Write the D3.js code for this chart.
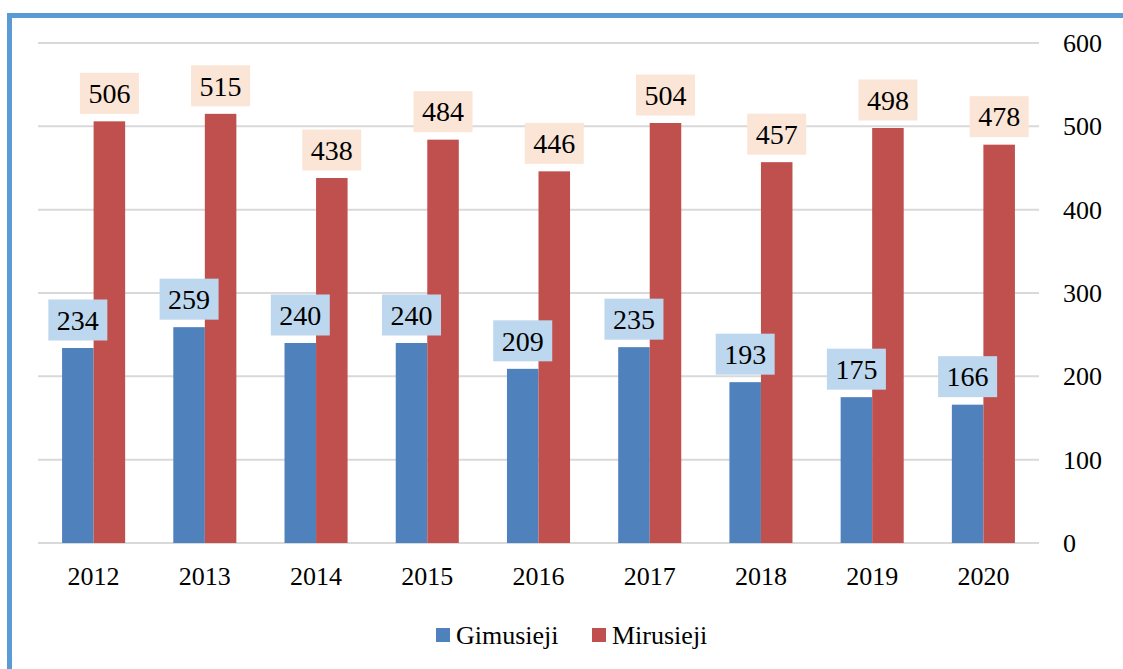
<!DOCTYPE html>
<html lang="lt">
<head>
    <meta charset="UTF-8">
    <script src="https://d3js.org/d3.v7.min.js"></script>
    <style>
        body { margin: 0; background: #fff; }
    </style>
</head>
<body>
    <svg id="chart" width="1123" height="669"></svg>

    <script>
        const years = ["2012", "2013", "2014", "2015", "2016", "2017", "2018", "2019", "2020"];
        const gimusieji = [234, 259, 240, 240, 209, 235, 193, 175, 166];
        const mirusieji = [506, 515, 438, 484, 446, 504, 457, 498, 478];
        const yTicks = [0, 100, 200, 300, 400, 500, 600];

        const series = [
            { name: "Gimusieji", values: gimusieji, color: "#4F81BD", labelFill: "#BDD7EE" },
            { name: "Mirusieji", values: mirusieji, color: "#C0504D", labelFill: "#FBE5D6" }
        ];

        const FONT = "Liberation Serif, Times New Roman, serif";
        const width = 1123, height = 669;
        const margin = { top: 43, right: 84, bottom: 126, left: 38 };

        const svg = d3.select("#chart");

        // outer frame (left and top edges visible)
        svg.append("path")
            .attr("d", `M9.5,${height} V15.5 H${width}`)
            .attr("fill", "none")
            .attr("stroke", "#5B9BD5")
            .attr("stroke-width", 5);

        const x = d3.scaleBand().domain(years)
            .range([margin.left, width - margin.right])
            .paddingInner(0.433).paddingOuter(0.2165);
        const xs = d3.scaleBand().domain(series.map(s => s.name))
            .range([0, x.bandwidth()]);
        const y = d3.scaleLinear().domain([0, 600])
            .range([height - margin.bottom, margin.top]);

        // grid
        svg.append("g").selectAll("line")
            .data(yTicks).enter().append("line")
            .attr("x1", margin.left).attr("x2", width - margin.right)
            .attr("y1", d => y(d)).attr("y2", d => y(d))
            .attr("stroke", "#D9D9D9").attr("stroke-width", 2);

        // right axis labels
        svg.append("g").selectAll("text")
            .data(yTicks).enter().append("text")
            .attr("x", width - margin.right + 24)
            .attr("y", d => y(d))
            .attr("dy", "0.35em")
            .attr("font-family", FONT)
            .attr("font-size", 26)
            .text(d => d);

        // x labels
        svg.append("g").selectAll("text")
            .data(years).enter().append("text")
            .attr("x", d => x(d) + x.bandwidth() / 2)
            .attr("y", y(0) + 42)
            .attr("text-anchor", "middle")
            .attr("font-family", FONT)
            .attr("font-size", 26)
            .text(d => d);

        // bars
        series.forEach(s => {
            const data = years.map((yr, i) => ({ yr, v: s.values[i] }));
            svg.append("g").selectAll("rect")
                .data(data).enter().append("rect")
                .attr("x", d => x(d.yr) + xs(s.name))
                .attr("y", d => y(d.v))
                .attr("width", xs.bandwidth())
                .attr("height", d => y(0) - y(d.v))
                .attr("fill", s.color);
        });

        // data labels on top of all bars
        series.forEach(s => {
            const data = years.map((yr, i) => ({ yr, v: s.values[i] }));
            const lab = svg.append("g").selectAll("g")
                .data(data).enter().append("g")
                .attr("transform", d => `translate(${x(d.yr) + xs(s.name) + xs.bandwidth() / 2},${y(d.v) - 28})`);
            lab.append("rect")
                .attr("x", -29.5).attr("y", -20.5)
                .attr("width", 59).attr("height", 41)
                .attr("fill", s.labelFill);
            lab.append("text")
                .attr("text-anchor", "middle")
                .attr("dy", "0.35em")
                .attr("font-family", FONT)
                .attr("font-size", 28)
                .text(d => d.v);
        });

        // legend
        const legendPos = [436, 592];
        series.forEach((s, i) => {
            svg.append("rect")
                .attr("x", legendPos[i]).attr("y", 628)
                .attr("width", 14).attr("height", 14)
                .attr("fill", s.color);
            svg.append("text")
                .attr("x", legendPos[i] + 20).attr("y", 635)
                .attr("dy", "0.35em")
                .attr("font-family", FONT)
                .attr("font-size", 26)
                .text(s.name);
        });
    </script>
</body>
</html>
